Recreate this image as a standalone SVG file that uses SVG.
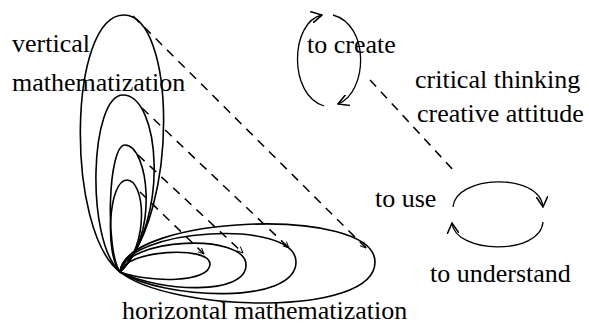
<svg xmlns="http://www.w3.org/2000/svg" width="589" height="324" viewBox="0 0 589 324">
<style>
.loop{fill:none;stroke:#000;stroke-width:1.6}
.dash{fill:none;stroke:#000;stroke-width:1.5;stroke-dasharray:9 7}
text{font-size:26px;fill:#000}
</style>
<defs>
<marker id="arr" viewBox="0 0 10 10" refX="9" refY="5" markerWidth="7" markerHeight="7" markerUnits="userSpaceOnUse" orient="auto">
<path d="M0,1 L9,5 L0,9" fill="none" stroke="#000" stroke-width="1.4"/>
</marker>
<marker id="arr2" viewBox="0 0 10 10" refX="9" refY="5" markerWidth="12" markerHeight="12" markerUnits="userSpaceOnUse" orient="auto">
<path d="M0,0 L9,5 L0,10" fill="none" stroke="#000" stroke-width="1.3"/>
</marker>
</defs>
<rect width="589" height="324" fill="#fff"/>

<g id="vertical-loops">
<path class="loop" d="M120,272 C65,230 68,15 124,15 C175,15 180,210 120,272"/>
<path class="loop" d="M120,272 C85,240 90,95 123,95 C160,95 170,220 120,272"/>
<path class="loop" d="M120,272 C105,250 108,145 125,145 C148,145 160,235 120,272"/>
<path class="loop" d="M120,272 C105,255 108,180 127,180 C145,180 150,245 120,272"/>
</g>

<g id="horizontal-loops">
<path class="loop" d="M120,272 C125,215 375,205 375,262 C375,318 170,312 120,272"/>
<path class="loop" d="M120,272 C125,228 296,218 296,262 C296,305 165,300 120,272"/>
<path class="loop" d="M120,272 C125,238 246,232 246,265 C246,296 160,292 120,272"/>
<path class="loop" d="M120,272 C125,250 210,245 210,264 C210,283 150,283 120,272"/>
</g>

<g id="create-cycle">
<path class="loop" style="stroke-width:1.3" marker-end="url(#arr2)" d="M324,106 C288,95 290,22 322,15"/>
<path class="loop" style="stroke-width:1.3" marker-end="url(#arr2)" d="M333,15 C370,25 368,92 338,104"/>
</g>

<g id="use-cycle">
<path class="loop" style="stroke-width:1.3" marker-end="url(#arr2)" d="M453,207 C455,175 540,172 543,207"/>
<path class="loop" style="stroke-width:1.3" marker-end="url(#arr2)" d="M543,222 C540,256 455,254 452,223"/>
</g>

<g id="connectors">
<path class="dash" marker-end="url(#arr)" d="M133,16 L366,248"/>
<path class="dash" marker-end="url(#arr)" d="M142,108 L289,248"/>
<path class="dash" marker-end="url(#arr)" d="M138,155 L243,253"/>
<path class="dash" marker-end="url(#arr)" d="M140,192 L204,254"/>
<path class="dash" d="M370,80 L455,172"/>
</g>

<g id="labels">
<text x="12" y="52" font-family="Times New Roman, Liberation Serif, serif">vertical</text>
<text x="12" y="91" font-family="Times New Roman, Liberation Serif, serif">mathematization</text>
<text x="307" y="53" font-family="Times New Roman, Liberation Serif, serif">to create</text>
<text x="415" y="88" font-family="Times New Roman, Liberation Serif, serif">critical thinking</text>
<text x="417" y="122" font-family="Times New Roman, Liberation Serif, serif">creative attitude</text>
<text x="375" y="207" font-family="Times New Roman, Liberation Serif, serif">to use</text>
<text x="430" y="282" font-family="Times New Roman, Liberation Serif, serif">to understand</text>
<text x="122" y="319" font-family="Times New Roman, Liberation Serif, serif">horizontal mathematization</text>
</g>
</svg>
